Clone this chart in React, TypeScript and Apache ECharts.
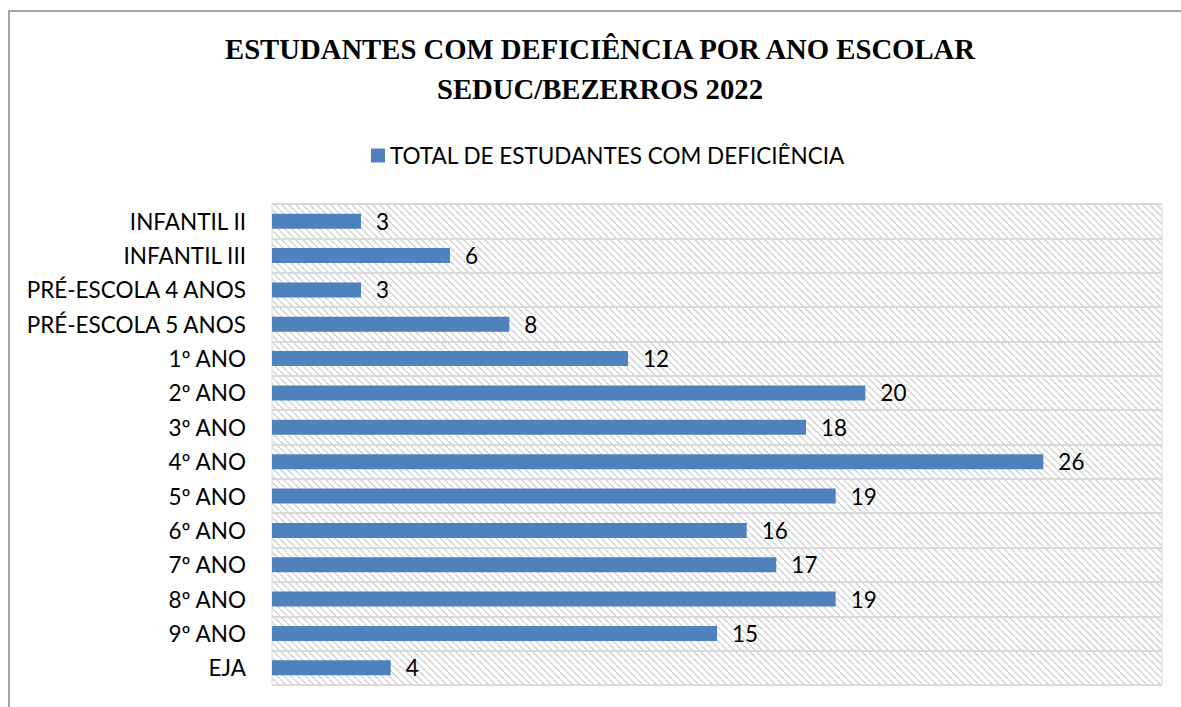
import React, { useEffect, useRef } from "react";
import * as echarts from "echarts";

const titleLines = ["ESTUDANTES COM DEFICIÊNCIA POR ANO ESCOLAR", "SEDUC/BEZERROS 2022"];
const seriesName = "TOTAL DE ESTUDANTES COM DEFICIÊNCIA";
const categories = [
  "INFANTIL II",
  "INFANTIL III",
  "PRÉ-ESCOLA 4 ANOS",
  "PRÉ-ESCOLA 5 ANOS",
  "1º ANO",
  "2º ANO",
  "3º ANO",
  "4º ANO",
  "5º ANO",
  "6º ANO",
  "7º ANO",
  "8º ANO",
  "9º ANO",
  "EJA",
];
const values = [3, 6, 3, 8, 12, 20, 18, 26, 19, 16, 17, 19, 15, 4];

function makeHatch(): string {
  const s = 7;
  const c = document.createElement("canvas");
  c.width = s;
  c.height = s;
  const ctx = c.getContext("2d");
  if (ctx) {
    ctx.fillStyle = "#ffffff";
    ctx.fillRect(0, 0, s, s);
    ctx.strokeStyle = "#d0d0d0";
    ctx.lineWidth = 1.3;
    ctx.beginPath();
    ctx.moveTo(-1, -1);
    ctx.lineTo(s + 1, s + 1);
    ctx.stroke();
  }
  return c.toDataURL();
}

export default function App() {
  const ref = useRef<HTMLDivElement>(null);
  useEffect(() => {
    if (!ref.current) return;
    const chart = echarts.init(ref.current, undefined, { renderer: "svg" });
    const hatch = makeHatch();
    const font = "Lato, 'Open Sans', sans-serif";
    const titleStyle = {
      fontFamily: "'Liberation Serif', 'DejaVu Serif', serif",
      fontWeight: "bold",
      fontSize: 28.7,
      color: "#000000",
    };
    chart.setOption({
      animation: false,
      backgroundColor: "#ffffff",
      title: titleLines.map((t, i) => ({
        text: t,
        left: 600,
        textAlign: "center",
        top: 34 + i * 40,
        padding: 0,
        textStyle: titleStyle,
      })),
      legend: {
        data: [seriesName],
        top: 139,
        left: 366,
        icon: "rect",
        itemWidth: 14,
        itemHeight: 14,
        itemGap: 8,
        textStyle: { fontFamily: font, fontSize: 22.5, color: "#000000" },
      },
      graphic: [
        {
          type: "line",
          shape: { x1: 9, y1: 11, x2: 9, y2: 707 },
          style: { stroke: "#a6a6a6", lineWidth: 2 },
        },
        {
          type: "line",
          shape: { x1: 8, y1: 11, x2: 1181, y2: 11 },
          style: { stroke: "#a6a6a6", lineWidth: 2 },
        },
      ],
      grid: {
        left: 272,
        right: 19,
        top: 204,
        bottom: 22,
        show: true,
        borderColor: "#d9d9d9",
        borderWidth: 1,
        backgroundColor: { image: hatch, repeat: "repeat" },
      },
      xAxis: {
        type: "value",
        min: 0,
        max: 30,
        show: false,
      },
      yAxis: {
        type: "category",
        data: categories,
        inverse: true,
        axisLine: { show: false },
        axisTick: { show: false },
        axisLabel: { fontFamily: font, fontSize: 22.5, color: "#000000", margin: 26 },
        splitLine: { show: true, interval: 0, lineStyle: { color: "#d9d9d9", width: 2 } },
      },
      series: [
        {
          name: seriesName,
          type: "bar",
          data: values,
          barWidth: 15,
          itemStyle: { color: "#4f81bd" },
          label: {
            show: true,
            position: "right",
            distance: 15,
            fontFamily: font,
            fontSize: 22.5,
            color: "#000000",
          },
        },
      ],
    });
    return () => chart.dispose();
  }, []);
  return (
    <div
      ref={ref}
      style={{ position: "fixed", left: 0, top: 0, width: 1181, height: 707 }}
    />
  );
}
